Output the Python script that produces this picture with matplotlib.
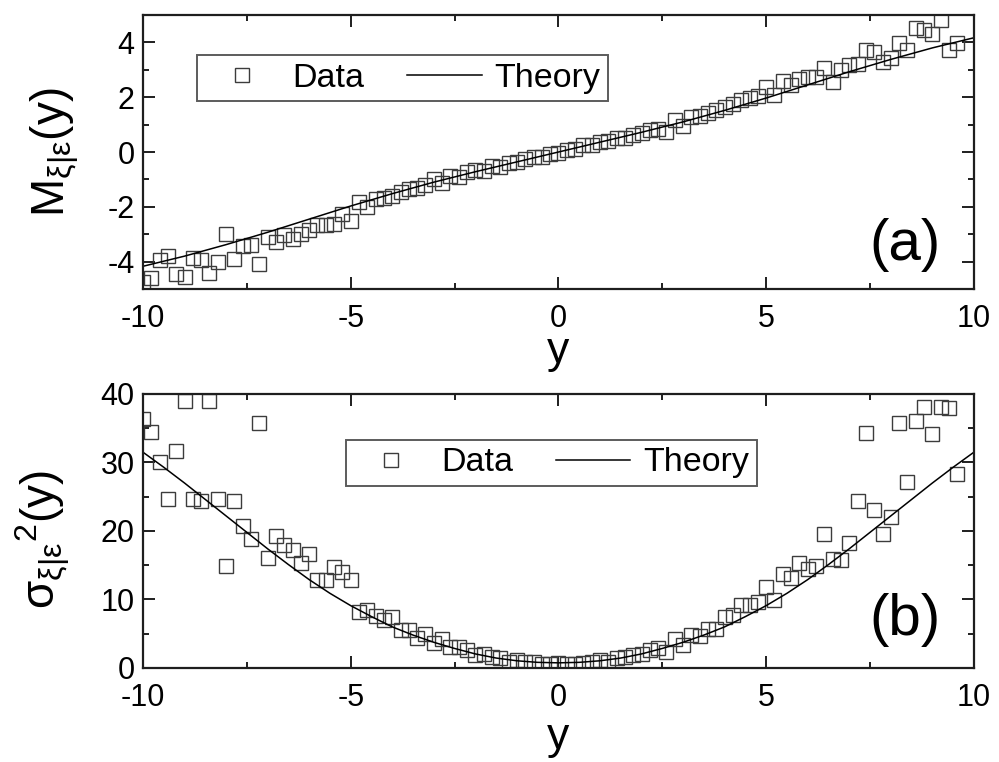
import matplotlib.pyplot as plt
from matplotlib.ticker import MultipleLocator

plt.rcParams['font.family'] = ['Liberation Sans', 'DejaVu Sans']
plt.rcParams['mathtext.fontset'] = 'custom'
plt.rcParams['mathtext.rm'] = 'Liberation Sans'
plt.rcParams['mathtext.it'] = 'Liberation Sans'
plt.rcParams['mathtext.bf'] = 'Liberation Sans:bold'
plt.rcParams['axes.unicode_minus'] = False

# sample positions (y) shared by both panels
y_pts = [-10.0, -9.8, -9.6, -9.4, -9.2, -9.0, -8.8, -8.6, -8.4, -8.2,
         -8.0, -7.8, -7.6, -7.4, -7.2, -7.0, -6.8, -6.6, -6.4, -6.2,
         -6.0, -5.8, -5.6, -5.4, -5.2, -5.0, -4.8, -4.6, -4.4, -4.2,
         -4.0, -3.8, -3.6, -3.4, -3.2, -3.0, -2.8, -2.6, -2.4, -2.2,
         -2.0, -1.8, -1.6, -1.4, -1.2, -1.0, -0.8, -0.6, -0.4, -0.2,
         0.0, 0.2, 0.4, 0.6, 0.8, 1.0, 1.2, 1.4, 1.6, 1.8,
         2.0, 2.2, 2.4, 2.6, 2.8, 3.0, 3.2, 3.4, 3.6, 3.8,
         4.0, 4.2, 4.4, 4.6, 4.8, 5.0, 5.2, 5.4, 5.6, 5.8,
         6.0, 6.2, 6.4, 6.6, 6.8, 7.0, 7.2, 7.4, 7.6, 7.8,
         8.0, 8.2, 8.4, 8.6, 8.8, 9.0, 9.2, 9.4, 9.6]

# panel (a): conditional mean
mean_data = [-4.75, -4.60, -3.95, -3.80, -4.45, -4.55, -3.85, -3.95, -4.40, -4.00,
             -3.00, -3.90, -3.43, -3.40, -4.09, -3.09, -3.27, -3.03, -3.19, -3.00,
             -2.85, -2.66, -2.66, -2.62, -2.26, -2.50, -1.81, -2.00, -1.73, -1.69,
             -1.62, -1.45, -1.36, -1.33, -1.22, -0.98, -1.12, -0.86, -0.90, -0.72,
             -0.66, -0.68, -0.52, -0.56, -0.40, -0.35, -0.27, -0.20, -0.17, -0.06,
             -0.05, 0.08, 0.10, 0.24, 0.26, 0.38, 0.40, 0.50, 0.52, 0.62,
             0.68, 0.80, 0.84, 0.74, 1.17, 0.95, 1.29, 1.31, 1.41, 1.53,
             1.65, 1.76, 1.90, 1.97, 2.03, 2.38, 2.08, 2.58, 2.45, 2.66,
             2.75, 2.75, 3.07, 2.57, 2.99, 3.18, 3.22, 3.72, 3.64, 3.30,
             3.43, 3.97, 3.71, 4.54, 4.47, 4.30, 4.82, 3.72, 3.97]

mean_theory_y = [-10, -9, -8, -7, -6, -5, -4, -3, -2, -1, 0,
                 1, 2, 3, 4, 5, 6, 7, 8, 9, 10]
mean_theory = [-4.17, -3.80, -3.38, -2.93, -2.45, -1.97, -1.52, -1.10, -0.72, -0.36, 0.0,
               0.36, 0.72, 1.10, 1.52, 1.97, 2.45, 2.93, 3.38, 3.80, 4.17]

# panel (b): conditional variance
var_data = [36.3, 34.4, 30.1, 24.7, 31.6, 39.0, 24.7, 24.4, 39.0, 24.6,
            14.9, 24.4, 20.7, 18.8, 35.7, 16.1, 19.2, 18.0, 17.2, 15.3,
            16.6, 12.9, 12.9, 14.8, 14.0, 12.8, 8.2, 8.5, 7.6, 7.0,
            7.4, 5.5, 5.5, 4.4, 5.0, 3.6, 4.3, 3.1, 3.0, 2.6,
            1.9, 2.1, 1.6, 1.5, 0.9, 1.1, 0.9, 0.8, 0.65, 0.65,
            0.75, 0.65, 0.65, 0.75, 0.9, 1.1, 0.9, 1.4, 1.6, 1.85,
            2.1, 2.6, 2.9, 2.4, 4.3, 3.4, 4.8, 4.6, 5.75, 5.75,
            7.4, 7.7, 9.2, 9.2, 9.6, 11.8, 9.9, 13.7, 13.1, 15.3,
            14.4, 14.9, 19.5, 15.9, 15.8, 18.3, 24.4, 34.3, 23.0, 19.5,
            22.0, 35.7, 27.1, 36.0, 38.1, 34.1, 38.1, 37.9, 28.3]

var_theory_y = [-10, -9.5, -9, -8.5, -8, -7.5, -7, -6.5, -6, -5.5, -5,
                -4.5, -4, -3.5, -3, -2.5, -2, -1.5, -1, -0.5, 0,
                0.5, 1, 1.5, 2, 2.5, 3, 3.5, 4, 4.5, 5,
                5.5, 6, 6.5, 7, 7.5, 8, 8.5, 9, 9.5, 10]
var_theory = [31.5, 29.3, 27.0, 24.6, 22.2, 19.8, 17.4, 15.1, 12.9, 10.9, 9.1,
              7.5, 6.0, 4.8, 3.75, 2.85, 2.05, 1.45, 1.05, 0.82, 0.75,
              0.82, 1.05, 1.45, 2.05, 2.85, 3.75, 4.8, 6.0, 7.5, 9.1,
              10.9, 12.9, 15.1, 17.4, 19.8, 22.2, 24.6, 27.0, 29.3, 31.5]

ink = '#1e1e1e'


def style_axes(ax, ymajor, yminor):
    ax.set_xlim(-10, 10)
    ax.xaxis.set_major_locator(MultipleLocator(5))
    ax.xaxis.set_minor_locator(MultipleLocator(2.5))
    ax.yaxis.set_major_locator(MultipleLocator(ymajor))
    ax.yaxis.set_minor_locator(MultipleLocator(yminor))
    ax.tick_params(which='both', direction='in', top=True, right=True,
                   width=1.4, color=ink, labelsize=22)
    ax.tick_params(which='major', length=8.5)
    ax.tick_params(which='minor', length=4.5)
    ax.tick_params(axis='x', pad=11)
    ax.tick_params(axis='y', pad=6)
    for s in ax.spines.values():
        s.set_linewidth(1.6)
        s.set_color(ink)
    ax.set_xlabel('y', fontsize=32)


fig = plt.figure(figsize=(9.99, 7.62), dpi=100)
ax1 = fig.add_axes([0.1431, 0.6207, 0.8318, 0.3596])
ax2 = fig.add_axes([0.1431, 0.1234, 0.8318, 0.3596])

for ax, data, th_y, th, yl in [(ax1, mean_data, mean_theory_y, mean_theory, (-5, 5)),
                               (ax2, var_data, var_theory_y, var_theory, (0, 40))]:
    ax.plot(y_pts, data, 's', mfc='none', mec='#3c3c3c', ms=9.5, mew=1.0, label='Data')
    ax.plot(th_y, th, '-', color='black', lw=1.1, label='Theory')
    ax.set_ylim(*yl)

style_axes(ax1, 2, 1)
style_axes(ax2, 10, 5)

ax1.set_ylabel(r'$\mathregular{M_{\xi|\epsilon}(y)}$', fontsize=33)
ax2.set_ylabel(r'$\mathregular{\sigma_{\xi|\epsilon}{}^{2}(y)}$', fontsize=33)
ax1.yaxis.set_label_coords(-0.075, 0.5)
ax2.yaxis.set_label_coords(-0.085, 0.47)
ax1.xaxis.set_label_coords(0.5, -0.155)
ax2.xaxis.set_label_coords(0.5, -0.18)

leg_kw = dict(ncol=2, loc='upper left', borderaxespad=0, fancybox=False,
              edgecolor='#333333', fontsize=24.5, numpoints=1, handlelength=2.2,
              columnspacing=1.25, handletextpad=0.38, borderpad=0.22)
l1 = ax1.legend(bbox_to_anchor=(0.065, 0.854), **leg_kw)
l2 = ax2.legend(bbox_to_anchor=(0.244, 0.832), **leg_kw)
for lg in (l1, l2):
    lg.get_frame().set_linewidth(1.4)

ax1.text(0.917, 0.16, '(a)', transform=ax1.transAxes, fontsize=42,
         ha='center', va='center')
ax2.text(0.917, 0.175, '(b)', transform=ax2.transAxes, fontsize=42,
         ha='center', va='center')

fig.savefig('out.png', dpi=100)
